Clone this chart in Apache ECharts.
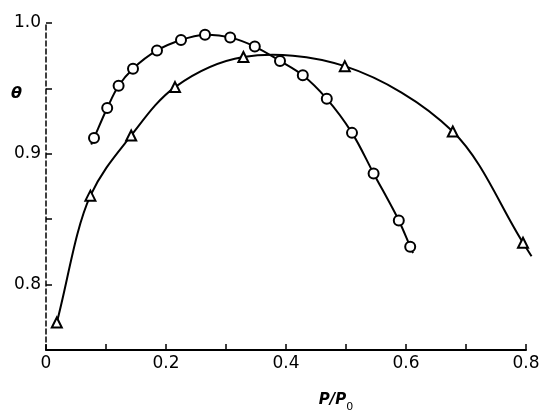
<!DOCTYPE html>
<html>
<head>
<meta charset="utf-8">
<script src="https://cdn.jsdelivr.net/npm/echarts@6/dist/echarts.min.js"></script>
<style>html,body{margin:0;padding:0;background:#fff;}#c{width:546px;height:418px;}</style>
</head>
<body>
<div id="c"></div>
<script>
// Circles series (P/P0, theta)
const circleX = [0.080, 0.102, 0.121, 0.145, 0.185, 0.225, 0.265, 0.307, 0.348, 0.390, 0.428, 0.468, 0.510, 0.546, 0.588, 0.607];
const circleY = [0.912, 0.935, 0.952, 0.965, 0.979, 0.987, 0.991, 0.989, 0.982, 0.971, 0.960, 0.942, 0.916, 0.885, 0.849, 0.829];
// Triangles series
const triX = [0.018, 0.074, 0.142, 0.215, 0.329, 0.498, 0.678, 0.795];
const triY = [0.771, 0.868, 0.914, 0.951, 0.974, 0.967, 0.917, 0.832];
// Tick labels
const xTickLabels = {0: '0', 2: '0.2', 4: '0.4', 6: '0.6', 8: '0.8'};
const yTickLabels = {8: '0.8', 9: '0.9', 10: '1.0'};

const pair = (xs, ys) => xs.map((x, i) => [x, ys[i]]);
const FONT = 'DejaVu Sans';

// Centripetal Catmull-Rom through pixel points (obtained from the axes via api.coord)
function splinePath(pts, extStart, extEnd) {
  const n = pts.length, a = 0.5;
  const P = i => {
    if (i < 0) return [2 * pts[0][0] - pts[1][0], 2 * pts[0][1] - pts[1][1]];
    if (i >= n) return [2 * pts[n - 1][0] - pts[n - 2][0], 2 * pts[n - 1][1] - pts[n - 2][1]];
    return pts[i];
  };
  const dist = (p, q) => Math.max(1e-6, Math.pow(Math.hypot(q[0] - p[0], q[1] - p[1]), a));
  const segs = [];
  for (let i = 0; i < n - 1; i++) {
    const p0 = P(i - 1), p1 = P(i), p2 = P(i + 1), p3 = P(i + 2);
    const d1 = dist(p0, p1), d2 = dist(p1, p2), d3 = dist(p2, p3);
    const c1 = [0, 1].map(k => (d1 * d1 * p2[k] - d2 * d2 * p0[k] + (2 * d1 * d1 + 3 * d1 * d2 + d2 * d2) * p1[k]) / (3 * d1 * (d1 + d2)));
    const c2 = [0, 1].map(k => (d3 * d3 * p1[k] - d2 * d2 * p3[k] + (2 * d3 * d3 + 3 * d3 * d2 + d2 * d2) * p2[k]) / (3 * d3 * (d3 + d2)));
    segs.push([p1, c1, c2, p2]);
  }
  let d = '';
  const first = segs[0], last = segs[segs.length - 1];
  if (extStart > 0) {
    const vx = first[0][0] - first[1][0], vy = first[0][1] - first[1][1], L = Math.hypot(vx, vy) || 1;
    d += 'M' + (first[0][0] + vx / L * extStart) + ' ' + (first[0][1] + vy / L * extStart) + 'L' + first[0][0] + ' ' + first[0][1];
  } else {
    d += 'M' + first[0][0] + ' ' + first[0][1];
  }
  segs.forEach(s => { d += 'C' + s[1][0] + ' ' + s[1][1] + ' ' + s[2][0] + ' ' + s[2][1] + ' ' + s[3][0] + ' ' + s[3][1]; });
  if (extEnd > 0) {
    const vx = last[3][0] - last[2][0], vy = last[3][1] - last[2][1], L = Math.hypot(vx, vy) || 1;
    d += 'L' + (last[3][0] + vx / L * extEnd) + ' ' + (last[3][1] + vy / L * extEnd);
  }
  return d;
}
function curveSeries(xs, ys, extStart, extEnd) {
  return {
    type: 'custom', silent: true, clip: false, z: 1,
    data: [[xs[0], ys[0]]],
    renderItem: (params, api) => {
      const pts = xs.map((x, i) => api.coord([x, ys[i]]));
      return {type: 'path', shape: {pathData: splinePath(pts, extStart, extEnd)},
              style: {stroke: '#000', fill: null, lineWidth: 2}};
    }
  };
}

const chart = echarts.init(document.getElementById('c'), null, {renderer: 'canvas'});
chart.setOption({
  animation: false,
  backgroundColor: '#fff',
  grid: {left: 46, right: 20, top: 23, bottom: 50, containLabel: false},
  xAxis: {
    type: 'value', min: 0, max: 0.8, interval: 0.1,
    name: '{p|P/P}{s|0}',
    nameLocation: 'middle', nameGap: 38,
    nameTextStyle: {
      padding: [0, 0, 0, 100],
      rich: {
        p: {fontFamily: FONT, fontStyle: 'italic', fontWeight: 'bold', fontSize: 15, color: '#000'},
        s: {fontFamily: FONT, fontSize: 11, color: '#000', padding: [14, 0, 0, 0]}
      }
    },
    axisLine: {lineStyle: {color: '#000', width: 2}},
    axisTick: {inside: true, length: 6, lineStyle: {color: '#000', width: 1.5}},
    axisLabel: {
      margin: 5, color: '#000', fontFamily: FONT, fontSize: 17,
      formatter: v => { const k = Math.round(v * 10); return xTickLabels[k] !== undefined ? xTickLabels[k] : ''; }
    },
    splitLine: {show: false}
  },
  yAxis: {
    type: 'value', min: 0.75, max: 1.0, interval: 0.05,
    axisLine: {show: true, lineStyle: {color: '#000', width: 1.5, type: [5, 3]}},
    axisTick: {show: true, inside: true, length: 6, lineStyle: {color: '#000', width: 1.5}},
    axisLabel: {
      margin: 5, color: '#000', fontFamily: FONT, fontSize: 17,
      formatter: v => { const k = v * 10; const r = Math.round(k); return Math.abs(k - r) < 1e-6 && yTickLabels[r] ? yTickLabels[r] : ''; }
    },
    splitLine: {show: false}
  },
  graphic: [{
    type: 'text', left: 11, top: 86,
    style: {text: 'θ', fontFamily: FONT, fontStyle: 'italic', fontWeight: 'bold', fontSize: 16, fill: '#000'}
  }],
  series: [
    curveSeries(circleX, circleY, 7, 7),
    curveSeries(triX, triY, 0, 16),
    {
      type: 'scatter', data: pair(circleX, circleY), z: 3,
      symbol: 'circle', symbolSize: 10,
      itemStyle: {color: '#fff', borderColor: '#000', borderWidth: 2, opacity: 1}
    },
    {
      type: 'scatter', data: pair(triX, triY), z: 3,
      symbol: 'triangle', symbolSize: 10,
      itemStyle: {color: '#fff', borderColor: '#000', borderWidth: 2, opacity: 1}
    }
  ]
});
</script>
</body>
</html>
